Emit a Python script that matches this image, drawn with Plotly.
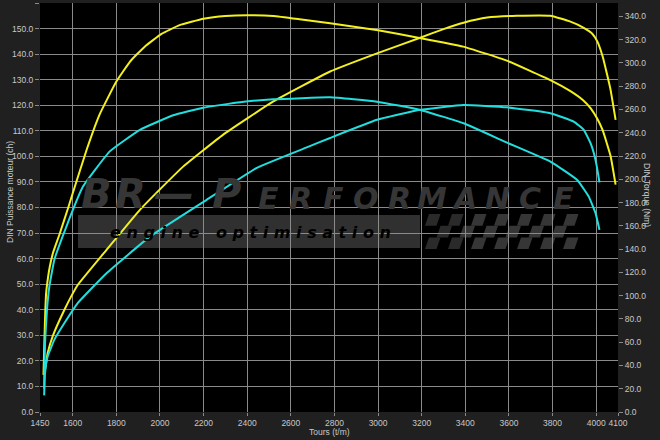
import plotly.graph_objects as go

# ---------------- data ----------------
rpm_torque_tuned = [1466, 1470, 1474, 1478, 1487, 1495, 1510, 1540, 1580, 1600, 1665, 1724, 1800,
                    1862, 1930, 2007, 2090, 2200, 2300, 2400, 2520, 2640, 2780, 3000, 3190, 3390,
                    3590, 3790, 3880, 3940, 3975, 4005, 4030, 4066, 4089]
torque_tuned = [32, 60, 85, 102, 116, 125, 137, 153, 176, 188, 226, 256, 284,
                301, 314, 325, 332.5, 338, 340.3, 341, 340.3, 337.5, 334, 328, 321.5, 314,
                302, 285.3, 276, 268, 261, 252, 242, 220, 195.4]

rpm_power_tuned = [1467, 1473, 1485, 1508, 1562, 1601, 1623, 1755, 1908, 2100, 2290, 2520, 2780,
                   2995, 3193, 3300, 3392, 3500, 3637, 3790, 3882, 3943, 3982, 4005, 4030, 4050,
                   4066, 4089]
power_tuned = [14.6, 16.5, 23, 29.6, 40, 46.5, 49.7, 63.4, 79.1, 95.5, 108.5, 121.5, 133.2,
               140.3, 146.4, 149.8, 152.3, 154.3, 155, 155, 152.7, 150.3, 148, 145, 139, 132,
               126, 114.3]

rpm_power_stock = [1469, 1473, 1485, 1516, 1562, 1623, 1755, 1954, 2214, 2444, 2673, 2780, 2995,
                   3193, 3392, 3591, 3790, 3897, 3943, 3975, 3990, 4003, 4015]
power_stock = [6.5, 15.2, 21.7, 28.3, 34.8, 42.6, 54.3, 68.6, 83, 95.5, 103.5, 107.2, 114.3,
               118.2, 120.1, 119.2, 116.9, 113.6, 110.4, 105, 101, 96, 89.8]

rpm_torque_stock = [1469, 1470, 1473, 1482, 1493, 1516, 1571, 1647, 1770, 1908, 2061, 2198, 2367,
                    2520, 2780, 2995, 3193, 3392, 3591, 3790, 3913, 3966, 3997, 4015]
torque_stock = [20, 36, 59, 88, 108, 131, 159.4, 193.7, 224, 242.5, 255, 261.5, 266.2,
                268.7, 270.4, 266.7, 259.6, 248.1, 231.5, 215.2, 199.4, 185.1, 170.9, 156.5]

x_ticks = [1450, 1600, 1800, 2000, 2200, 2400, 2600, 2800, 3000, 3200, 3400, 3600, 3800, 4000, 4100]
power_ticks = [i * 10 for i in range(17)]
torque_ticks = [i * 20 for i in range(18)]

# ---------------- figure ----------------
YELLOW = "#f2f01e"
CYAN = "#22dede"
FONT = "Liberation Sans, Arial, sans-serif"
TICKCOL = "#c8c8c8"
FS = 8.5
LINE = dict(width=2, shape="spline", smoothing=0.35)

fig = go.Figure()
fig.add_trace(go.Scatter(x=rpm_torque_tuned, y=torque_tuned, yaxis="y2", mode="lines",
                         line=dict(color=YELLOW, **LINE), hoverinfo="skip"))
fig.add_trace(go.Scatter(x=rpm_power_tuned, y=power_tuned, mode="lines",
                         line=dict(color=YELLOW, **LINE), hoverinfo="skip"))
fig.add_trace(go.Scatter(x=rpm_torque_stock, y=torque_stock, yaxis="y2", mode="lines",
                         line=dict(color=CYAN, **LINE), hoverinfo="skip"))
fig.add_trace(go.Scatter(x=rpm_power_stock, y=power_stock, mode="lines",
                         line=dict(color=CYAN, **LINE), hoverinfo="skip"))

L, R, T, B = 40, 42, 3, 28
W, H = 660, 440
PW, PH = W - L - R, H - T - B


def px(p):
    return (p - L) / PW


def py(p):
    return (H - B - p) / PH


shapes = []
WM = "#363636"
# watermark bar
shapes.append(dict(type="rect", xref="paper", yref="paper", x0=px(78), x1=px(420), y0=py(248), y1=py(215),
                   fillcolor="#303030", line=dict(width=0), layer="below"))
# checkered flag
cw, ch = 11.5, 11.7
for r in range(3):
    for c in range(13):
        if (r + c) % 2:
            continue
        x0 = 425 + c * cw
        y0 = 214 + r * ch
        sk = 4
        pts = [(x0 + sk, y0), (x0 + cw + sk, y0), (x0 + cw, y0 + ch), (x0, y0 + ch)]
        path = "M " + " L ".join(f"{px(a):.5f},{py(b):.5f}" for a, b in pts) + " Z"
        col = "#2a2a2a" if c < 3 else WM
        shapes.append(dict(type="path", xref="paper", yref="paper", path=path,
                           fillcolor=col, line=dict(width=0), layer="below"))

annotations = []
C = dict(xref="paper", yref="paper", showarrow=False, xanchor="center", yanchor="middle")
# BR-Performance letters
big = [("B", 96), ("R", 130), ("\u2014", 174), ("P", 226)]
for ch_, cx in big:
    annotations.append(dict(text=ch_, x=px(cx), y=py(194), **C,
                            font=dict(family="DejaVu Sans", size=40, color=WM, weight="bold", style="italic")))
for i, ch_ in enumerate("ERFORMANCE"):
    annotations.append(dict(text=ch_, x=px(268 + i * 32.8), y=py(198), **C,
                            font=dict(family="DejaVu Sans", size=30, color=WM, weight="bold", style="italic")))
annotations.append(dict(text="e n g i n e   o p t i m i s a t i o n", x=px(250), y=py(232), **C,
                        font=dict(family="DejaVu Sans", size=16, color="#000000", weight="bold",
                                  style="italic")))
# axis titles
annotations.append(dict(text="DIN Puissance moteur (ch)", x=px(10), y=py(192), **C, textangle=-90,
                        font=dict(family=FONT, size=FS, color=TICKCOL)))
annotations.append(dict(text="DIN Torque (Nm)", x=px(647), y=py(195), **C, textangle=90,
                        font=dict(family=FONT, size=FS, color=TICKCOL)))
annotations.append(dict(text="Tours (t/m)", x=px(329), y=py(432), **C,
                        font=dict(family=FONT, size=FS, color=TICKCOL)))

fig.update_layout(
    width=W, height=H,
    margin=dict(l=L, r=R, t=T, b=B, pad=0, autoexpand=False),
    paper_bgcolor="#202020",
    plot_bgcolor="#000000",
    showlegend=False,
    hovermode=False,
    font=dict(family=FONT, size=FS, color=TICKCOL),
    xaxis=dict(range=[1450, 4100], tickvals=x_ticks, ticktext=[str(v) for v in x_ticks],
               showgrid=True, gridcolor="#8a8a8a", gridwidth=1, zeroline=False, automargin=False,
               tickangle=0, ticks="outside", ticklen=3, tickcolor="#8a8a8a",
               tickfont=dict(family=FONT, size=FS, color=TICKCOL), showline=False),
    yaxis=dict(range=[0, 160], tickvals=power_ticks, tickformat=".1f", automargin=False,
               showgrid=True, gridcolor="#8a8a8a", gridwidth=1, zeroline=False,
               ticks="outside", ticklen=4, tickcolor="#8a8a8a",
               tickfont=dict(family=FONT, size=FS, color=TICKCOL), showline=False),
    yaxis2=dict(range=[0, 351.5], tickvals=torque_ticks, tickformat=".1f", overlaying="y", side="right",
                showgrid=False, zeroline=False, ticks="outside", ticklen=4, tickcolor="#8a8a8a",
                automargin=False,
                tickfont=dict(family=FONT, size=FS, color=TICKCOL), showline=False),
    shapes=shapes,
    annotations=annotations,
)

fig.write_html("out.html", config={"displayModeBar": False},
               post_script="document.body.style.margin='0px';")
